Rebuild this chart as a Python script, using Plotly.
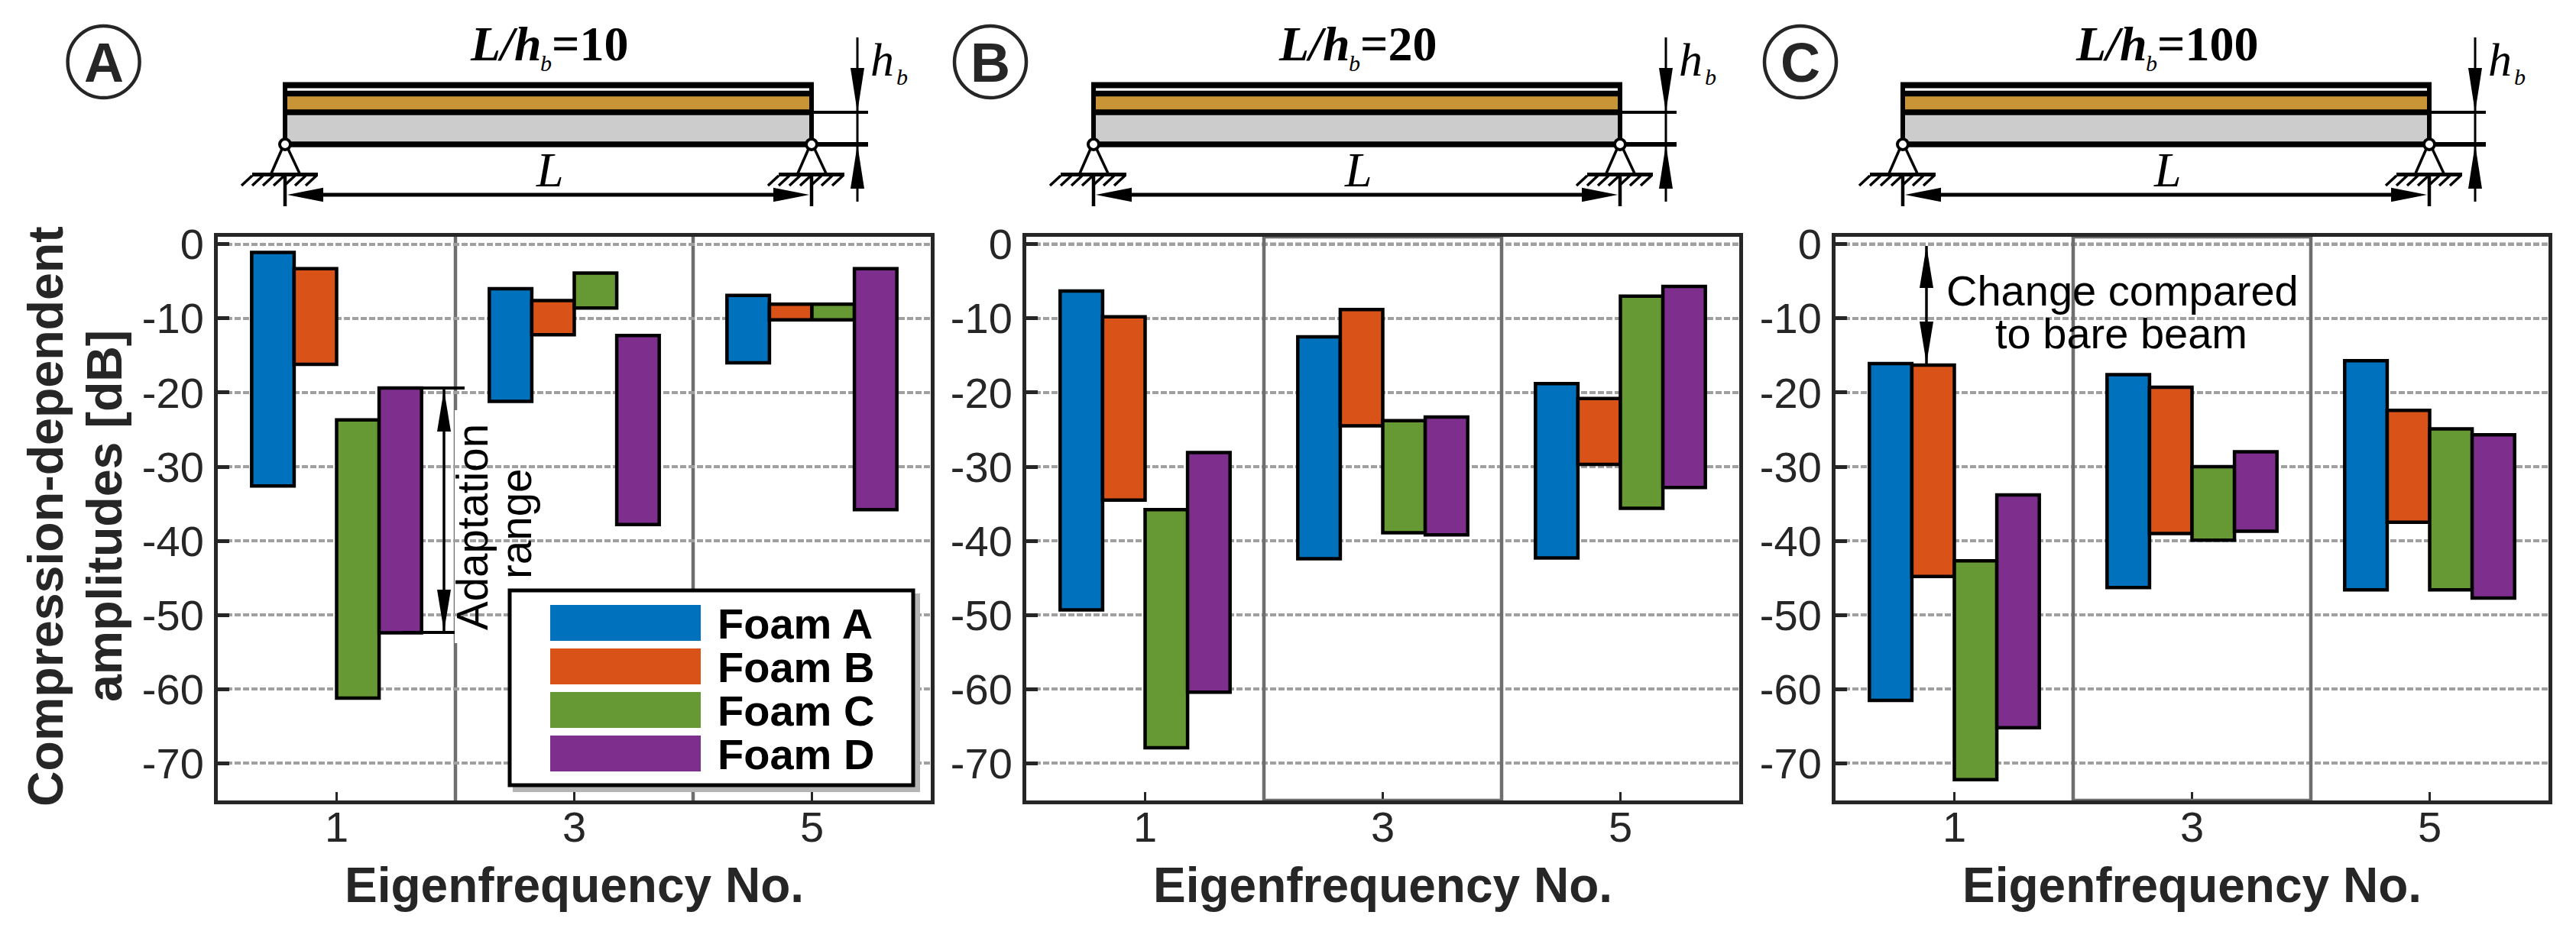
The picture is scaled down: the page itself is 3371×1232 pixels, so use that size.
import plotly.graph_objects as go

W, H = 3371, 1232

eigen_no = [1, 3, 5]
foams = ["Foam A", "Foam B", "Foam C", "Foam D"]
foam_colors = ["#0072BD", "#D95319", "#669933", "#7E2F8E"]
y_ticks = [0, -10, -20, -30, -40, -50, -60, -70]
y_tick_labels = ["0", "-10", "-20", "-30", "-40", "-50", "-60", "-70"]
x_tick_labels = ["1", "3", "5"]

# rows: Foam A, B, C, D; columns: eigenfrequency 1, 3, 5
panelA_top = [[-1.1, -6.0, -6.9], [-3.3, -7.6, -8.1], [-23.7, -3.9, -8.1], [-19.4, -12.3, -3.3]]
panelA_bottom = [[-32.6, -21.2, -16.0], [-16.2, -12.2, -10.2], [-61.2, -8.6, -10.2], [-52.4, -37.8, -35.8]]
panelB_top = [[-6.3, -12.5, -18.8], [-9.8, -8.8, -20.8], [-35.8, -23.8, -7.0], [-28.1, -23.3, -5.7]]
panelB_bottom = [[-49.3, -42.4, -42.3], [-34.5, -24.5, -29.7], [-67.9, -38.9, -35.6], [-60.4, -39.2, -32.8]]
panelC_top = [[-16.1, -17.6, -15.7], [-16.3, -19.3, -22.4], [-42.7, -30.0, -24.9], [-33.8, -28.0, -25.7]]
panelC_bottom = [[-61.5, -46.3, -46.6], [-44.8, -39.0, -37.5], [-72.2, -39.9, -46.6], [-65.2, -38.7, -47.7]]

panel_letters = ["A", "B", "C"]
panel_ratios = ["10", "20", "100"]
panel_left = [285, 1343, 2402]
panel_width = 933
plot_top, plot_bottom = 310, 1048
y_range = [-75, 1]
x_range = [0, 6]
INK = "#262626"
GRID = "#A0A0A0"
SEP = "#6E6E6E"
SANS = "Liberation Sans, Arial, sans-serif"
SERIF = "Liberation Serif, Times New Roman, serif"


def px(x):
    return x / W


def py(y):
    return 1 - y / H


def path(points, close=True):
    s = "M " + " L ".join(f"{px(a):.5f},{py(b):.5f}" for a, b in points)
    return s + (" Z" if close else "")


shapes, notes = [], []


def line(x0, y0, x1, y1, w=3, c="black"):
    shapes.append(dict(type="line", xref="paper", yref="paper", x0=px(x0), x1=px(x1), y0=py(y0), y1=py(y1),
                       line=dict(color=c, width=w), layer="above"))


def rect(x0, y0, x1, y1, fill, w=0, c="black"):
    shapes.append(dict(type="rect", xref="paper", yref="paper", x0=px(x0), x1=px(x1), y0=py(y0), y1=py(y1),
                       fillcolor=fill, line=dict(color=c, width=w), layer="above"))


def poly(points, fill="black"):
    shapes.append(dict(type="path", xref="paper", yref="paper", path=path(points), fillcolor=fill,
                       line=dict(width=0), layer="above"))


def note(x, y, text, size=56, color="black", family=SANS, angle=0, xanchor="center", yanchor="middle"):
    notes.append(dict(xref="paper", yref="paper", x=px(x), y=py(y), text=text, showarrow=False,
                      font=dict(size=size, color=color, family=family), textangle=angle,
                      xanchor=xanchor, yanchor=yanchor, borderpad=0))


def varrow(x, y_tip_top, y_tip_bottom, head=54, half=9, w=3.5):
    line(x, y_tip_top, x, y_tip_bottom, w)
    poly([(x, y_tip_top), (x - half, y_tip_top + head), (x + half, y_tip_top + head)])
    poly([(x, y_tip_bottom), (x - half, y_tip_bottom - head), (x + half, y_tip_bottom - head)])


def support(xc):
    ypin = 189
    line(xc - 4, ypin + 6, xc - 18, 227, 3.5)
    line(xc + 4, ypin + 6, xc + 19, 227, 3.5)
    line(xc - 43, 228.5, xc + 43, 228.5, 5)
    for k in range(7):
        xt = xc - 43 + k * 14
        line(xt, 230, xt - 14, 243, 3.5)
    shapes.append(dict(type="circle", xref="paper", yref="paper", x0=px(xc - 7), x1=px(xc + 7),
                       y0=py(ypin + 7), y1=py(ypin - 7), fillcolor="white",
                       line=dict(color="black", width=4), layer="above"))


def beam(x0, ratio):
    x1 = x0 + 689
    rect(x0, 108, x1, 192, "white")
    rect(x0, 126, x1, 144, "#C99436")
    rect(x0, 147, x1, 187, "#CCCCCC")
    for yy, hh in [(111.5, 8), (122.5, 7.5), (147, 7.5), (189, 7.5)]:
        line(x0 - 3, yy, x1 + 3, yy, hh)
    line(x0, 108, x0, 192, 6)
    line(x1, 108, x1, 192, 6)
    line(x1, 147, x1 + 74, 147, 4)
    line(x1, 189, x1 + 74, 189, 6)
    xd = x1 + 60
    line(xd, 49, xd, 264, 3)
    poly([(xd, 147), (xd - 9, 89), (xd + 9, 89)])
    poly([(xd, 189), (xd - 9, 247), (xd + 9, 247)])
    note(x1 + 92, 78, "<i>h</i>", size=62, family=SERIF)
    note(x1 + 118, 101, "<i>b</i>", size=30, family=SERIF)
    # title: L/h, subscript b, =ratio laid side by side
    tw = 92.5 + 15 + (0.57 + 0.5 * len(ratio)) * 64
    xs = (x0 + x1) / 2 - tw / 2
    note(xs, 58, "<b><i>L/h</i></b>", size=64, family=SERIF, xanchor="left")
    note(xs + 92.5, 82, "<i>b</i>", size=30, family=SERIF, xanchor="left")
    note(xs + 107.5, 58, f"<b>={ratio}</b>", size=64, family=SERIF, xanchor="left")
    support(x0)
    support(x1)
    line(x0, 231, x0, 270, 4.5)
    line(x1, 231, x1, 270, 4.5)
    line(x0 + 20, 255, x1 - 20, 255, 5)
    poly([(x0 + 3, 255), (x0 + 50, 245.7), (x0 + 50, 264.3)])
    poly([(x1 - 3, 255), (x1 - 50, 245.7), (x1 - 50, 264.3)])
    note((x0 + x1) / 2 + 2, 223, "<i>L</i>", size=64, family=SERIF)


fig = go.Figure()
tops = [panelA_top, panelB_top, panelC_top]
bottoms = [panelA_bottom, panelB_bottom, panelC_bottom]

for p in range(3):
    n = "" if p == 0 else str(p + 1)
    left = panel_left[p]
    for f in range(4):
        fig.add_trace(go.Bar(
            x=eigen_no,
            y=[t - b for t, b in zip(tops[p][f], bottoms[p][f])],
            base=bottoms[p][f],
            name=foams[f],
            marker=dict(color=foam_colors[f], line=dict(color="black", width=4.5)),
            xaxis="x" + n, yaxis="y" + n, showlegend=False,
            offsetgroup=str(f),
        ))
    axis_common = dict(showline=True, mirror=True, linecolor=INK, linewidth=5, zeroline=False, ticks="inside",
                       tickcolor=INK, tickfont=dict(size=56, color=INK, family=SANS), automargin=False)
    fig.update_layout({
        "xaxis" + n: dict(domain=[px(left), px(left + panel_width)], range=x_range, anchor="y" + n,
                          tickmode="array", tickvals=eigen_no, ticktext=x_tick_labels, ticklen=11, tickwidth=3,
                          showgrid=False, ticklabelstandoff=-18,
                          title=dict(text="<b>Eigenfrequency No.</b>", standoff=24,
                                     font=dict(size=64, color=INK, family=SANS)),
                          **axis_common),
        "yaxis" + n: dict(domain=[py(plot_bottom), py(plot_top)], range=y_range, anchor="x" + n,
                          tickmode="array", tickvals=y_ticks, ticktext=y_tick_labels, ticklen=15, tickwidth=5,
                          showgrid=True, gridcolor=GRID, gridwidth=4, griddash="8px,3px",
                          ticklabelstandoff=2, **axis_common),
    })
    xr, yr = "x" + n, "y" + n
    # separators and the 0 dB reference line
    if p == 0:
        for xv in [2, 4]:
            shapes.append(dict(type="line", xref=xr, yref=yr, x0=xv, x1=xv, y0=y_range[0], y1=y_range[1],
                               line=dict(color=SEP, width=4.5), layer="below"))
    else:
        shapes.append(dict(type="line", xref=xr, yref=yr, x0=x_range[0], x1=x_range[1], y0=0, y1=0,
                           line=dict(color=INK, width=4, dash="8px,3px"), layer="below"))
        shapes.append(dict(type="rect", xref=xr, yref=yr, x0=2, x1=4, y0=y_range[0], y1=y_range[1],
                           line=dict(color=SEP, width=4.5), layer="above"))
    # panel letter badge
    cx = [135.6, 1296, 2356][p]
    shapes.append(dict(type="circle", xref="paper", yref="paper", x0=px(cx - 47), x1=px(cx + 47),
                       y0=py(81 + 47), y1=py(81 - 47), fillcolor="white",
                       line=dict(color=INK, width=4.5), layer="above"))
    note(cx, 82, f"<b>{panel_letters[p]}</b>", size=72, color=INK)
    beam(left + 88, panel_ratios[p])

# white block behind the "Adaptation range" text
to_x = lambda v: (v - panel_left[0]) / panel_width * (x_range[1] - x_range[0])
to_y = lambda v: y_range[1] - (v - plot_top) / (plot_bottom - plot_top) * (y_range[1] - y_range[0])
shapes.append(dict(type="rect", xref="x", yref="y", x0=to_x(595), x1=to_x(708), y0=to_y(842), y1=to_y(537),
                   fillcolor="white", line=dict(width=0), layer="below"))

# y axis title
note(60, 676, "<b>Compression-dependent</b>", size=64.5, color=INK, angle=-90)
note(137, 676, "<b>amplitudes [dB]</b>", size=64.5, color=INK, angle=-90)

# adaptation range annotation in panel A
line(526, 508, 608, 508, 4)
line(526, 828, 595, 828, 4)
varrow(581, 510, 827, head=55)
note(618, 690, "Adaptation", size=56.5, angle=-90)
note(676, 686, "range", size=56.5, angle=-90)

# change annotation in panel C
varrow(2521, 322, 476, head=55)
note(2777, 380, "Change compared")
note(2776, 437, "to bare beam")

# legend
rect(671, 777, 1204, 1037, "#B4B4B4")
rect(667, 773, 1195, 1028, "white", w=5)
rows = [(792, 839), (849, 896), (906, 953), (963, 1010)]
for f in range(4):
    rect(720, rows[f][0], 917, rows[f][1], foam_colors[f])
    note(938, sum(rows[f]) / 2 + 1, f"<b>{foams[f]}</b>", size=56, xanchor="left")

fig.update_layout(
    width=W, height=H, autosize=False, margin=dict(l=0, r=0, t=0, b=0, pad=0),
    paper_bgcolor="white", plot_bgcolor="white", barmode="group", bargap=0.285, bargroupgap=0,
    shapes=shapes, annotations=notes,
)
fig.write_html("out.html", config=dict(displayModeBar=False),
               post_script="document.body.style.margin='0';document.body.style.overflow='hidden';")
